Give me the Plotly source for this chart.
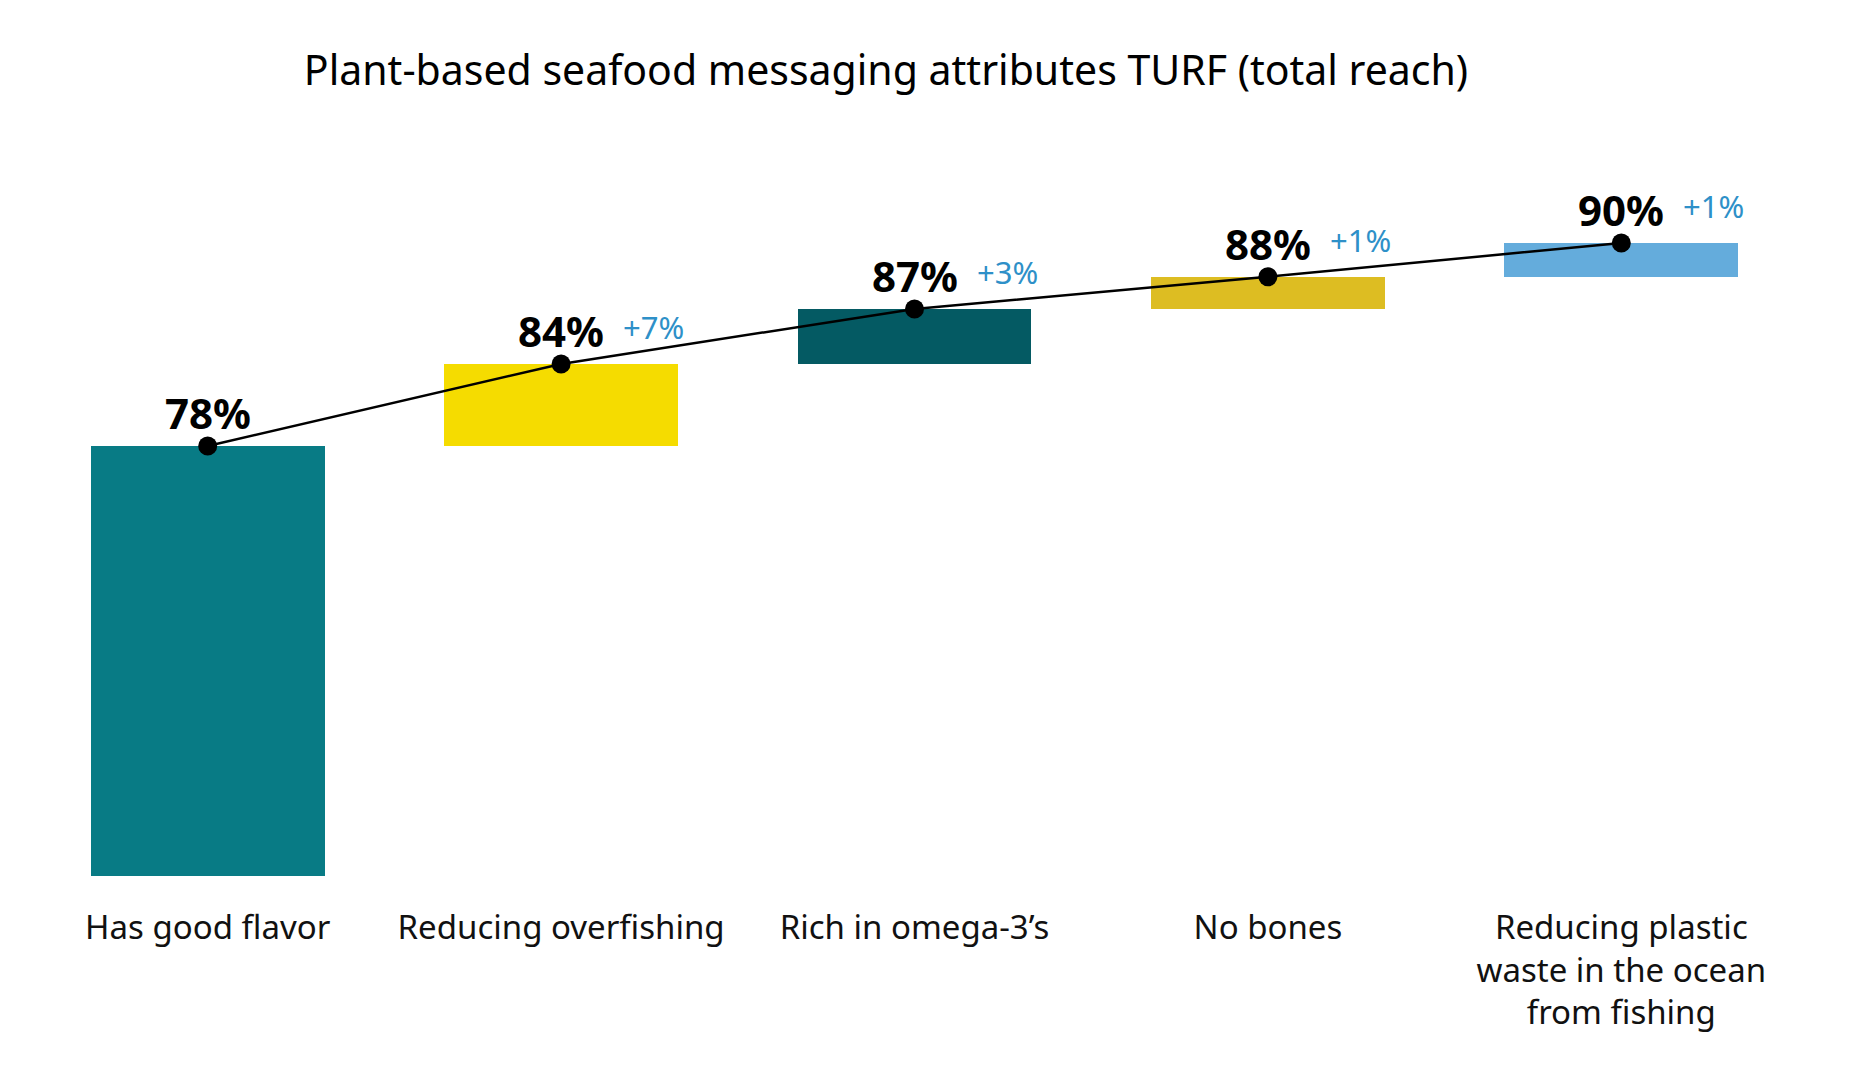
import plotly.graph_objects as go

# ---- data ----
categories = ["Has good flavor", "Reducing overfishing", "Rich in omega-3\u2019s", "No bones",
              "Reducing plastic<br>waste in the ocean<br>from fishing"]
reach = [78.0, 82.85, 86.1, 88.0, 90.0]          # cumulative reach as drawn
reach_labels = ["78%", "84%", "87%", "88%", "90%"]
increment_labels = ["", "+7%", "+3%", "+1%", "+1%"]
bar_colors = ["#087B85", "#F5DC00", "#045A63", "#DDBD22", "#64ACDC"]

FONT = "Noto Sans"
y_floor = 52.58
y_top = 98.45

bases = [0.0] + reach[:-1]
heights = [r - b for r, b in zip(reach, bases)]

fig = go.Figure()
fig.add_trace(go.Bar(
    x=categories, y=heights, base=bases,
    marker=dict(color=bar_colors, line=dict(width=0)),
    width=0.662, hoverinfo="skip", showlegend=False,
))
fig.add_trace(go.Scatter(
    x=categories, y=reach, mode="lines+markers",
    line=dict(color="#000000", width=2.5),
    marker=dict(color="#000000", size=19),
    hoverinfo="skip", showlegend=False, cliponaxis=False,
))

for cat, r, lab, inc in zip(categories, reach, reach_labels, increment_labels):
    fig.add_annotation(x=cat, y=r, text=f"<b>{lab}</b>", showarrow=False,
                       xanchor="center", yanchor="middle", yshift=33,
                       font=dict(family=FONT, size=42, color="#000000"))
    if inc:
        fig.add_annotation(x=cat, y=r, text=inc, showarrow=False,
                           xanchor="left", yanchor="middle", xshift=60, yshift=37,
                           font=dict(family=FONT, size=31, color="#2E90C8"))

fig.update_layout(
    width=1854, height=1080,
    paper_bgcolor="white", plot_bgcolor="white",
    margin=dict(l=23, r=64, t=92, b=212),
    title=dict(text="Plant-based seafood messaging attributes TURF (total reach)",
               x=878 / 1854, xanchor="center", xref="container",
               y=1 - 63 / 1080, yanchor="middle", yref="container",
               font=dict(family=FONT, size=41, color="#000000")),
    xaxis=dict(showgrid=False, zeroline=False, showline=False,
               ticks="outside", ticklen=22, tickcolor="rgba(0,0,0,0)",
               tickfont=dict(family=FONT, size=33, color="#111111"),
               range=[-0.5, 4.5], automargin=False),
    yaxis=dict(range=[y_floor, y_top], visible=False, automargin=False),
    bargap=0,
)

fig.write_html("out.html")
